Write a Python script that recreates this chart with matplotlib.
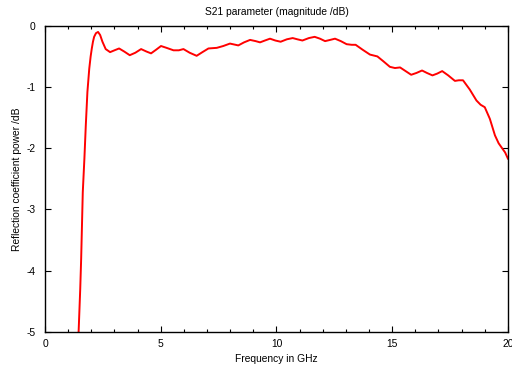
import matplotlib
matplotlib.use('Agg')
import matplotlib.pyplot as plt
from matplotlib.ticker import MultipleLocator

# S21 magnitude readings (GHz, dB)
freq = [1.40, 1.45, 1.52, 1.56, 1.63, 1.70, 1.76, 1.83, 1.91, 1.97, 2.02, 2.07, 2.12, 2.20,
        2.29, 2.38, 2.48, 2.62, 2.81, 3.00, 3.20, 3.42, 3.66, 3.90, 4.15, 4.38, 4.58,
        4.80, 5.01, 5.25, 5.55, 5.78, 5.98, 6.25, 6.55, 6.80, 7.06, 7.42, 7.70, 7.99,
        8.35, 8.60, 8.86, 9.10, 9.29, 9.50, 9.72, 9.95, 10.18, 10.45, 10.70, 10.90,
        11.12, 11.40, 11.65, 11.88, 12.10, 12.32, 12.53, 12.78, 13.03, 13.25, 13.42,
        13.72, 14.04, 14.36, 14.62, 14.90, 15.12, 15.34, 15.58, 15.82, 16.05, 16.29,
        16.50, 16.74, 16.95, 17.16, 17.42, 17.71, 17.88, 18.06, 18.35, 18.64, 18.82,
        19.00, 19.22, 19.44, 19.60, 19.73, 19.88, 20.00]
s21 = [-5.6, -5.0, -4.30, -3.81, -2.72, -2.17, -1.63, -1.08, -0.70, -0.50, -0.37, -0.26,
       -0.18, -0.12, -0.10, -0.15, -0.26, -0.38, -0.43, -0.40, -0.37, -0.42, -0.48,
       -0.44, -0.38, -0.42, -0.45, -0.39, -0.33, -0.36, -0.40, -0.40, -0.38, -0.44,
       -0.49, -0.43, -0.37, -0.36, -0.33, -0.29, -0.32, -0.27, -0.23, -0.25, -0.27,
       -0.24, -0.21, -0.24, -0.26, -0.22, -0.20, -0.22, -0.24, -0.20, -0.18, -0.21,
       -0.25, -0.23, -0.21, -0.25, -0.30, -0.31, -0.31, -0.39, -0.47, -0.50, -0.58,
       -0.67, -0.69, -0.68, -0.74, -0.80, -0.77, -0.73, -0.77, -0.81, -0.78, -0.74,
       -0.81, -0.90, -0.89, -0.89, -1.04, -1.22, -1.29, -1.33, -1.52, -1.79, -1.92,
       -1.99, -2.07, -2.17]

plt.rcParams['font.family'] = ['Liberation Sans', 'DejaVu Sans']
plt.rcParams['font.size'] = 7.4
plt.rcParams['axes.unicode_minus'] = False

fig = plt.figure(figsize=(5.12, 3.69), dpi=100)
ax = fig.add_axes([0.088, 0.101, 0.904, 0.829])

ax.plot(freq, s21, color='red', linewidth=1.4)

ax.set_xlim(0, 20)
ax.set_ylim(-5, 0)
ax.xaxis.set_major_locator(MultipleLocator(5))
ax.xaxis.set_minor_locator(MultipleLocator(1))
ax.yaxis.set_major_locator(MultipleLocator(1))
ax.tick_params(which='both', direction='in', top=True, right=True, width=0.8)
ax.tick_params(which='major', length=4)
ax.tick_params(which='minor', length=2.5)
ax.tick_params(axis='x', pad=5)
ax.tick_params(axis='y', pad=7)
for s in ax.spines.values():
    s.set_linewidth(1.0)

ax.set_title('S21 parameter (magnitude /dB)', fontsize=7.4, pad=8)
ax.set_xlabel('Frequency in GHz', labelpad=4)
ax.set_ylabel('Reflection coefficient power /dB', labelpad=3)

fig.savefig('out.png', dpi=100)
